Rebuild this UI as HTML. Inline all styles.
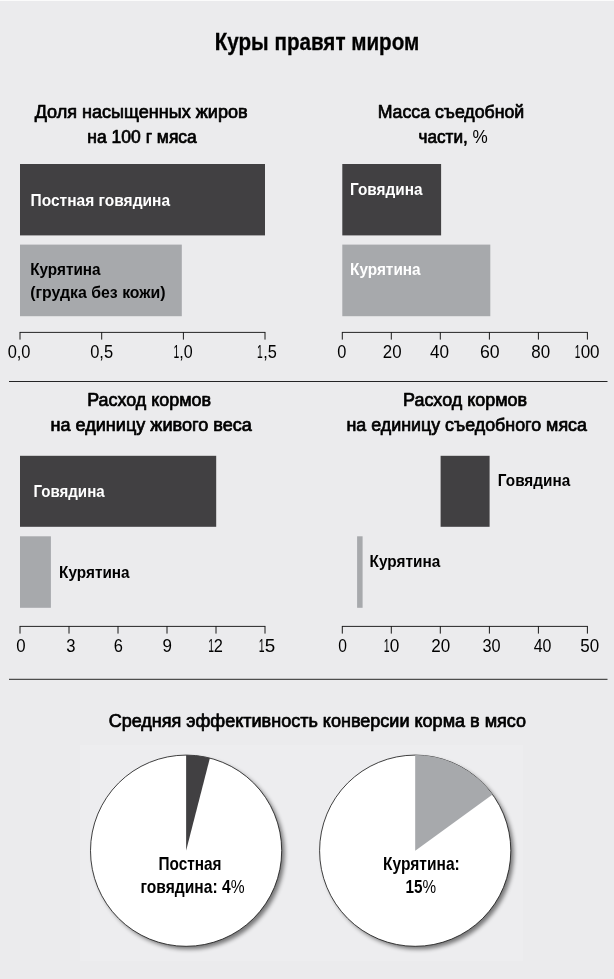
<!DOCTYPE html>
<html lang="ru"><head><meta charset="utf-8"><title>Куры правят миром</title>
<style>
html,body{margin:0;padding:0;background:#ebebed;}
body{width:614px;height:979px;overflow:hidden;font-family:"Liberation Sans",sans-serif;}
svg{display:block;position:absolute;left:0;top:0;}
text{font-family:"Liberation Sans",sans-serif;fill:#000;}
.b{font-weight:bold;}
.s{font-weight:normal;stroke:#000;stroke-width:0.7;stroke-linejoin:round;}
.s.w{stroke:#fff;}
.t{stroke:#000;stroke-width:0.3;}
.s .r{stroke:none;}
.r{font-weight:normal;}
.w{fill:#fff;}
.ax{stroke:#000;stroke-width:0.85;fill:none;}
.tk{stroke:#000;stroke-width:0.9;fill:none;}
</style></head><body>
<svg width="614" height="979" viewBox="0 0 614 979">
<defs><filter id="bl" x="-10%" y="-10%" width="120%" height="120%"><feGaussianBlur stdDeviation="2.2"/></filter></defs>
<rect x="0" y="0" width="614" height="979" fill="#ebebed"/>
<rect x="0" y="0" width="614" height="1" fill="#fbfbfb"/>
<rect x="20.0" y="164.0" width="245.0" height="71.4" fill="#414042"/>
<rect x="20.0" y="244.6" width="161.8" height="71.6" fill="#a7a9ac"/>
<path class="ax" d="M19.60 332.40H265.40"/>
<path class="tk" d="M20.00 332.40V339.60M101.70 332.40V339.60M183.40 332.40V339.60M265.00 332.40V339.60"/>
<rect x="342.3" y="164.0" width="98.8" height="71.4" fill="#414042"/>
<rect x="342.3" y="244.6" width="148.0" height="71.6" fill="#a7a9ac"/>
<path class="ax" d="M341.90 332.40H587.80"/>
<path class="tk" d="M342.30 332.40V339.60M391.30 332.40V339.60M440.30 332.40V339.60M489.40 332.40V339.60M538.40 332.40V339.60M587.40 332.40V339.60"/>
<path class="ax" d="M9 381.5H607.5M9 679.3H607.5"/>
<rect x="20.0" y="455.8" width="196.2" height="71.0" fill="#414042"/>
<rect x="20.0" y="536.3" width="30.9" height="71.5" fill="#a7a9ac"/>
<path class="ax" d="M19.60 626.40H265.40"/>
<path class="tk" d="M20.00 626.40V633.60M69.00 626.40V633.60M118.00 626.40V633.60M167.00 626.40V633.60M216.00 626.40V633.60M265.00 626.40V633.60"/>
<rect x="440.6" y="455.8" width="49.0" height="71.0" fill="#414042"/>
<rect x="357.1" y="536.3" width="5.5" height="71.5" fill="#a7a9ac"/>
<path class="ax" d="M341.90 626.40H587.80"/>
<path class="tk" d="M342.30 626.40V633.60M391.30 626.40V633.60M440.30 626.40V633.60M489.40 626.40V633.60M538.40 626.40V633.60M587.40 626.40V633.60"/>
<rect x="80" y="745" width="443" height="216" fill="#ededef"/>
<circle cx="189.1" cy="853.7" r="95.6" fill="#000" opacity="0.5" filter="url(#bl)"/>
<circle cx="186.1" cy="850.7" r="95.6" fill="#fff" stroke="#111" stroke-width="0.8"/>
<path d="M186.10 850.70L186.10 755.10A95.60 95.60 0 0 1 209.87 758.10Z" fill="#414042"/>
<circle cx="418.2" cy="853.7" r="95.6" fill="#000" opacity="0.5" filter="url(#bl)"/>
<circle cx="415.2" cy="850.7" r="95.6" fill="#fff" stroke="#111" stroke-width="0.8"/>
<path d="M415.20 850.70L415.20 755.10A95.60 95.60 0 0 1 492.54 794.51Z" fill="#a7a9ac"/>
<text x="214.75" y="49.9" font-size="24.6" class="b t" textLength="204.53" lengthAdjust="spacingAndGlyphs">Куры правят миром</text>
<text x="34.65" y="118.1" font-size="17.5" class="s" textLength="213.00" lengthAdjust="spacingAndGlyphs">Доля насыщенных жиров</text>
<text x="87.35" y="143.3" font-size="17.5" class="s" textLength="109.50" lengthAdjust="spacingAndGlyphs">на 100 г мяса</text>
<text x="377.65" y="117.7" font-size="17.5" class="s" textLength="146.63" lengthAdjust="spacingAndGlyphs">Масса съедобной</text>
<text x="418.60" y="142.8" font-size="17.5" class="s" textLength="69.23" lengthAdjust="spacingAndGlyphs">части, <tspan class="r">%</tspan></text>
<text x="87.15" y="405.5" font-size="17.5" class="s" textLength="123.92" lengthAdjust="spacingAndGlyphs">Расход кормов</text>
<text x="50.45" y="430.7" font-size="17.5" class="s" textLength="201.36" lengthAdjust="spacingAndGlyphs">на единицу живого веса</text>
<text x="403.05" y="405.5" font-size="17.5" class="s" textLength="123.97" lengthAdjust="spacingAndGlyphs">Расход кормов</text>
<text x="346.45" y="430.7" font-size="17.5" class="s" textLength="240.50" lengthAdjust="spacingAndGlyphs">на единицу съедобного мяса</text>
<text x="108.65" y="727.1" font-size="17.5" class="s" textLength="417.40" lengthAdjust="spacingAndGlyphs">Средняя эффективность конверсии корма в мясо</text>
<text x="30.50" y="205.6" font-size="17.3" class="b w" textLength="139.51" lengthAdjust="spacingAndGlyphs">Постная говядина</text>
<text x="30.15" y="274.5" font-size="17.3" class="b" textLength="70.44" lengthAdjust="spacingAndGlyphs">Курятина</text>
<text x="30.15" y="297.8" font-size="17.3" class="b" textLength="135.52" lengthAdjust="spacingAndGlyphs">(грудка без кожи)</text>
<text x="350.00" y="194.5" font-size="17.3" class="b w" textLength="72.51" lengthAdjust="spacingAndGlyphs">Говядина</text>
<text x="350.00" y="274.5" font-size="17.3" class="b w" textLength="70.65" lengthAdjust="spacingAndGlyphs">Курятина</text>
<text x="33.40" y="496.6" font-size="17.3" class="b w" textLength="71.26" lengthAdjust="spacingAndGlyphs">Говядина</text>
<text x="59.10" y="577.6" font-size="17.3" class="b" textLength="70.50" lengthAdjust="spacingAndGlyphs">Курятина</text>
<text x="497.85" y="485.6" font-size="17.3" class="b" textLength="72.37" lengthAdjust="spacingAndGlyphs">Говядина</text>
<text x="369.60" y="567.2" font-size="17.3" class="b" textLength="70.62" lengthAdjust="spacingAndGlyphs">Курятина</text>
<text x="158.50" y="869.7" font-size="17.9" class="b" textLength="63.06" lengthAdjust="spacingAndGlyphs">Постная</text>
<text x="140.55" y="892.6" font-size="17.9" class="b" textLength="104.03" lengthAdjust="spacingAndGlyphs">говядина: 4<tspan class="r">%</tspan></text>
<text x="383.10" y="869.7" font-size="17.9" class="b" textLength="76.63" lengthAdjust="spacingAndGlyphs">Курятина:</text>
<text x="405.45" y="892.6" font-size="17.9" class="b" textLength="30.62" lengthAdjust="spacingAndGlyphs">15<tspan class="r">%</tspan></text>
<text x="7.65" y="357.8" font-size="17.8" class="n" textLength="22.83" lengthAdjust="spacingAndGlyphs">0,0</text>
<text x="90.15" y="357.8" font-size="17.8" class="n" textLength="22.91" lengthAdjust="spacingAndGlyphs">0,5</text>
<text y="357.8" font-size="17.8" class="n"><tspan x="173.60" textLength="5.76" lengthAdjust="spacingAndGlyphs">1</tspan><tspan x="179.25" textLength="13.41" lengthAdjust="spacingAndGlyphs">,0</tspan></text>
<text y="357.8" font-size="17.8" class="n"><tspan x="257.10" textLength="5.76" lengthAdjust="spacingAndGlyphs">1</tspan><tspan x="263.25" textLength="13.61" lengthAdjust="spacingAndGlyphs">,5</tspan></text>
<text x="337.25" y="357.8" font-size="17.8" class="n" textLength="9.11" lengthAdjust="spacingAndGlyphs">0</text>
<text x="382.75" y="357.8" font-size="17.8" class="n" textLength="18.77" lengthAdjust="spacingAndGlyphs">20</text>
<text x="429.95" y="357.8" font-size="17.8" class="n" textLength="19.07" lengthAdjust="spacingAndGlyphs">40</text>
<text x="479.90" y="357.8" font-size="17.8" class="n" textLength="19.71" lengthAdjust="spacingAndGlyphs">60</text>
<text x="531.25" y="357.8" font-size="17.8" class="n" textLength="18.85" lengthAdjust="spacingAndGlyphs">80</text>
<text y="357.8" font-size="17.8" class="n"><tspan x="574.70" textLength="5.58" lengthAdjust="spacingAndGlyphs">1</tspan><tspan x="580.65" textLength="18.97" lengthAdjust="spacingAndGlyphs">00</tspan></text>
<text x="16.15" y="651.7" font-size="17.8" class="n" textLength="9.36" lengthAdjust="spacingAndGlyphs">0</text>
<text x="66.15" y="651.7" font-size="17.8" class="n" textLength="9.23" lengthAdjust="spacingAndGlyphs">3</text>
<text x="113.75" y="651.7" font-size="17.8" class="n" textLength="9.16" lengthAdjust="spacingAndGlyphs">6</text>
<text x="162.40" y="651.7" font-size="17.8" class="n" textLength="9.45" lengthAdjust="spacingAndGlyphs">9</text>
<text y="651.7" font-size="17.8" class="n"><tspan x="208.20" textLength="5.79" lengthAdjust="spacingAndGlyphs">1</tspan><tspan x="213.80" textLength="9.11" lengthAdjust="spacingAndGlyphs">2</tspan></text>
<text y="651.7" font-size="17.8" class="n"><tspan x="258.85" textLength="5.82" lengthAdjust="spacingAndGlyphs">1</tspan><tspan x="264.75" textLength="10.47" lengthAdjust="spacingAndGlyphs">5</tspan></text>
<text x="338.15" y="651.7" font-size="17.8" class="n" textLength="8.68" lengthAdjust="spacingAndGlyphs">0</text>
<text y="651.7" font-size="17.8" class="n"><tspan x="383.75" textLength="5.82" lengthAdjust="spacingAndGlyphs">1</tspan><tspan x="389.75" textLength="9.58" lengthAdjust="spacingAndGlyphs">0</tspan></text>
<text x="431.30" y="651.7" font-size="17.8" class="n" textLength="18.96" lengthAdjust="spacingAndGlyphs">20</text>
<text x="482.55" y="651.7" font-size="17.8" class="n" textLength="18.11" lengthAdjust="spacingAndGlyphs">30</text>
<text x="533.75" y="651.7" font-size="17.8" class="n" textLength="17.71" lengthAdjust="spacingAndGlyphs">40</text>
<text x="580.20" y="651.7" font-size="17.8" class="n" textLength="18.92" lengthAdjust="spacingAndGlyphs">50</text>
</svg></body></html>
